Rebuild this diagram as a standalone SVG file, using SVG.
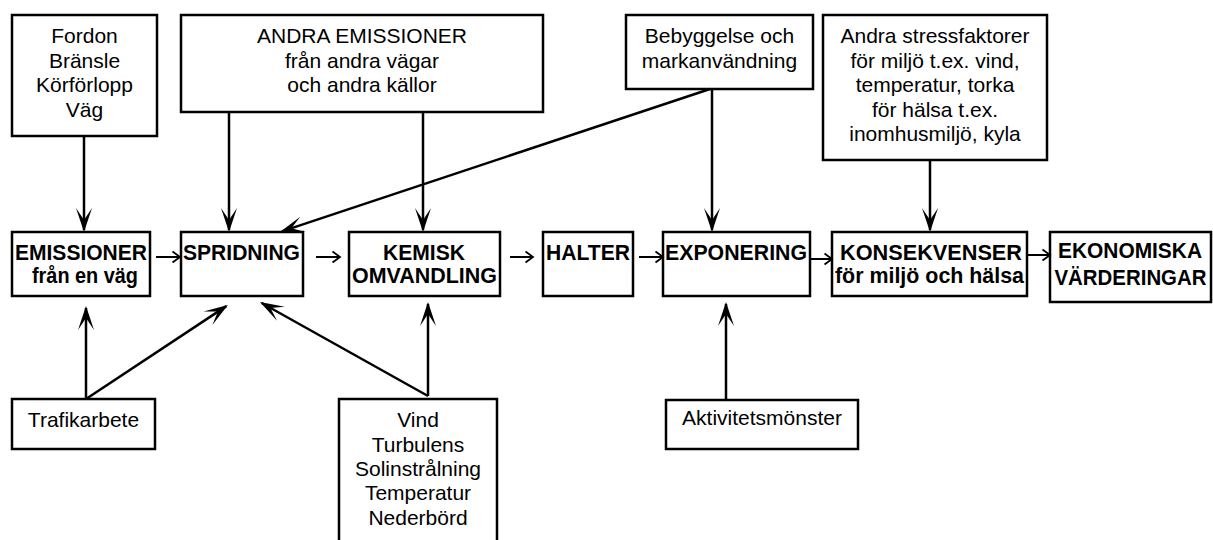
<svg xmlns="http://www.w3.org/2000/svg" width="1213" height="540" viewBox="0 0 1213 540">
  <style>
    .box { fill: #fff; stroke: #000; stroke-width: 2.5; }
    .t { font-family: "Liberation Sans", Arial, sans-serif; font-size: 21px; fill: #000; text-anchor: middle; }
    .b { font-weight: bold; font-size: 22px; }
    .ln { stroke: #000; stroke-width: 2.5; fill: none; }
    .la { marker-end: url(#big); }
    .hs { stroke: #000; stroke-width: 2; fill: none; marker-end: url(#small); }
  </style>
  <defs>
    <marker id="big" markerUnits="userSpaceOnUse" viewBox="-26 -10 30 20" refX="-2" refY="0" markerWidth="30" markerHeight="20" orient="auto">
      <path d="M0,0 L-24,-8 L-12,0 L-24,8 Z" fill="#000"/>
    </marker>
    <marker id="small" markerUnits="userSpaceOnUse" viewBox="-10 -8 12 16" refX="0" refY="0" markerWidth="12" markerHeight="16" orient="auto">
      <path d="M-7.5,-5.5 L0,0 L-7.5,5.5" fill="none" stroke="#000" stroke-width="1.8"/>
    </marker>
  </defs>

  <g id="fordon">
    <rect class="box" x="12" y="15" width="145" height="121"/>
    <text class="t" x="84.5" y="43">Fordon</text>
    <text class="t" x="84.5" y="68">Bränsle</text>
    <text class="t" x="84.5" y="92">Körförlopp</text>
    <text class="t" x="84.5" y="117">Väg</text>
  </g>
  <g id="andra-emissioner">
    <rect class="box" x="181" y="15" width="362" height="97"/>
    <text class="t" x="362" y="43">ANDRA EMISSIONER</text>
    <text class="t" x="362" y="68">från andra vägar</text>
    <text class="t" x="362" y="92">och andra källor</text>
  </g>
  <g id="bebyggelse">
    <rect class="box" x="626" y="15" width="187" height="74"/>
    <text class="t" x="719.5" y="43">Bebyggelse och</text>
    <text class="t" x="719.5" y="68">markanvändning</text>
  </g>
  <g id="stressfaktorer">
    <rect class="box" x="823" y="15" width="224" height="145"/>
    <text class="t" x="935" y="43">Andra stressfaktorer</text>
    <text class="t" x="935" y="68">för miljö t.ex. vind,</text>
    <text class="t" x="935" y="92">temperatur, torka</text>
    <text class="t" x="935" y="117">för hälsa t.ex.</text>
    <text class="t" x="935" y="141">inomhusmiljö, kyla</text>
  </g>

  <g id="emissioner">
    <rect class="box" x="12" y="232" width="138" height="64"/>
    <text class="t b" x="81" y="260" textLength="132" lengthAdjust="spacingAndGlyphs">EMISSIONER</text>
    <text class="t b" x="85" y="283" textLength="106" lengthAdjust="spacingAndGlyphs">från en väg</text>
  </g>
  <g id="spridning">
    <rect class="box" x="181" y="232" width="122" height="64"/>
    <text class="t b" x="241.5" y="260" textLength="117" lengthAdjust="spacingAndGlyphs">SPRIDNING</text>
  </g>
  <g id="kemisk">
    <rect class="box" x="349" y="232" width="151" height="64"/>
    <text class="t b" x="424" y="260" textLength="82" lengthAdjust="spacingAndGlyphs">KEMISK</text>
    <text class="t b" x="424.5" y="283" textLength="145" lengthAdjust="spacingAndGlyphs">OMVANDLING</text>
  </g>
  <g id="halter">
    <rect class="box" x="543" y="232" width="90" height="64"/>
    <text class="t b" x="588" y="260" textLength="84" lengthAdjust="spacingAndGlyphs">HALTER</text>
  </g>
  <g id="exponering">
    <rect class="box" x="663" y="232" width="147" height="64"/>
    <text class="t b" x="736" y="260" textLength="142" lengthAdjust="spacingAndGlyphs">EXPONERING</text>
  </g>
  <g id="konsekvenser">
    <rect class="box" x="832" y="232" width="195" height="64"/>
    <text class="t b" x="931" y="260" textLength="182" lengthAdjust="spacingAndGlyphs">KONSEKVENSER</text>
    <text class="t b" x="929.5" y="283" textLength="189" lengthAdjust="spacingAndGlyphs">för miljö och hälsa</text>
  </g>
  <g id="ekonomiska">
    <rect class="box" x="1050" y="232" width="161" height="70"/>
    <text class="t b" x="1130" y="258" textLength="144" lengthAdjust="spacingAndGlyphs">EKONOMISKA</text>
    <text class="t b" x="1130.5" y="285" textLength="152" lengthAdjust="spacingAndGlyphs">VÄRDERINGAR</text>
  </g>

  <g id="trafikarbete">
    <rect class="box" x="12" y="399" width="143" height="50"/>
    <text class="t" x="83.5" y="427">Trafikarbete</text>
  </g>
  <g id="meteorologi">
    <rect class="box" x="339" y="399" width="158" height="160"/>
    <text class="t" x="418" y="427">Vind</text>
    <text class="t" x="418" y="452">Turbulens</text>
    <text class="t" x="418" y="476">Solinstrålning</text>
    <text class="t" x="418" y="500">Temperatur</text>
    <text class="t" x="418" y="525">Nederbörd</text>
  </g>
  <g id="aktivitet">
    <rect class="box" x="666" y="400" width="192" height="49"/>
    <text class="t" x="762" y="425">Aktivitetsmönster</text>
  </g>

  <g id="connectors">
    <line class="ln la" x1="84" y1="136" x2="84" y2="230"/>
    <line class="ln la" x1="229" y1="112" x2="229" y2="230"/>
    <line class="ln la" x1="423" y1="112" x2="423" y2="230"/>
    <line class="ln la" x1="712" y1="89" x2="712" y2="230"/>
    <line class="ln la" x1="710" y1="89" x2="281.9" y2="231.4"/>
    <line class="ln la" x1="930" y1="160" x2="930" y2="230"/>

    <line class="ln la" x1="86" y1="399" x2="86" y2="308"/>
    <line class="ln la" x1="86" y1="399" x2="226.3" y2="306.1"/>
    <line class="ln la" x1="428" y1="396" x2="428" y2="304"/>
    <line class="ln la" x1="428" y1="396" x2="261.7" y2="303"/>
    <line class="ln la" x1="726" y1="400" x2="726" y2="304"/>

    <line class="hs" x1="156" y1="257" x2="180" y2="257"/>
    <line class="hs" x1="316" y1="257" x2="340" y2="257"/>
    <line class="hs" x1="510" y1="257" x2="533" y2="257"/>
    <line class="hs" x1="639" y1="257" x2="663" y2="257"/>
    <line class="hs" x1="810" y1="259" x2="832" y2="259"/>
    <line class="hs" x1="1027" y1="255" x2="1050" y2="255"/>
  </g>
</svg>
